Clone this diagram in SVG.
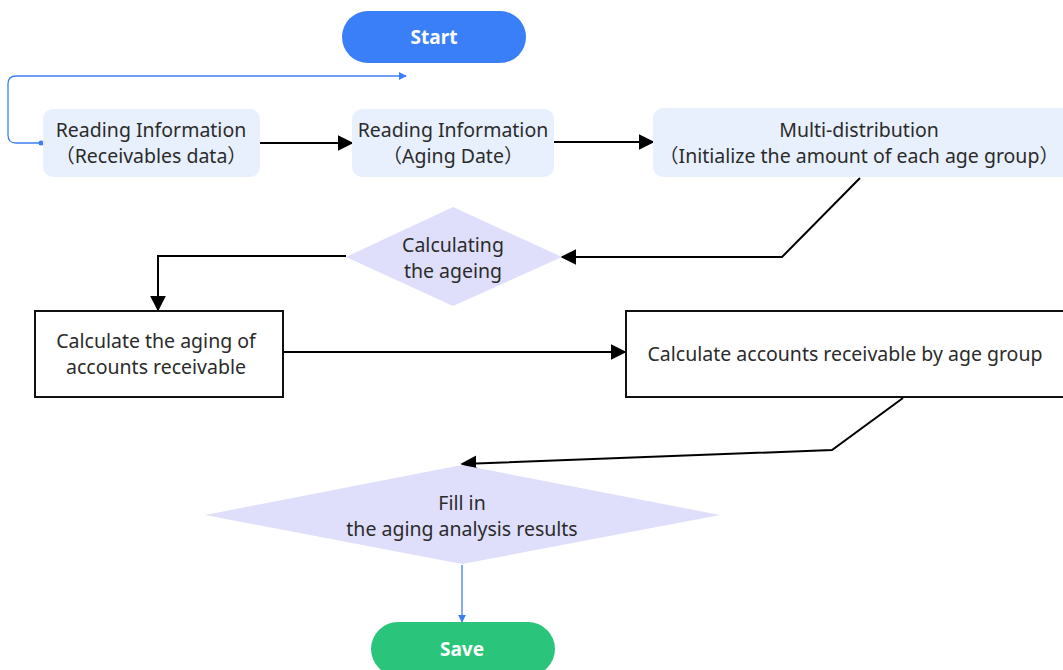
<svg xmlns="http://www.w3.org/2000/svg" width="1063" height="670" viewBox="0 0 1063 670">
  <defs>
    <style>
      .lbl { font-family: "Noto Sans", "Noto Sans CJK SC", sans-serif; font-size: 19.5px; fill: #2b2b2b; text-anchor: middle; }
      .term { font-family: "Noto Sans", sans-serif; font-size: 19px; font-weight: bold; fill: #ffffff; text-anchor: middle; }
      .soft { fill: #e8f0fd; }
      .dia { fill: #dfdffb; }
      .box { fill: #ffffff; stroke: #111111; stroke-width: 2; }
      .edge { fill: none; stroke: #000000; stroke-width: 2; }
      .blue { fill: none; stroke: #3b7ff8; stroke-width: 1.3; }
    </style>
    <marker id="ahBig" viewBox="0 0 10 10" refX="9" refY="5" markerWidth="16" markerHeight="16" markerUnits="userSpaceOnUse" orient="auto">
      <path d="M0,0 L10,5 L0,10 z" fill="#000000"/>
    </marker>
    <marker id="ahBlue" viewBox="0 0 10 10" refX="9" refY="5" markerWidth="8" markerHeight="8" markerUnits="userSpaceOnUse" orient="auto">
      <path d="M0,0 L10,5 L0,10 z" fill="#3b7ff8"/>
    </marker>
  </defs>

  <rect width="1063" height="670" fill="#ffffff"/>

  <g id="connectors">
    <!-- loop from the first reading step back up above -->
    <path class="blue" d="M41,143 H16 Q8,143 8,135 V84 Q8,76 16,76 H406" marker-end="url(#ahBlue)"/>
    <circle cx="41" cy="143" r="2.5" fill="#3b7ff8"/>
    <path class="edge" d="M260,143 H352" marker-end="url(#ahBig)"/>
    <path class="edge" d="M554,142 H653" marker-end="url(#ahBig)"/>
    <path class="edge" d="M860,178 L782,257 H562" marker-end="url(#ahBig)"/>
    <path class="edge" d="M346,256 H158 V310" marker-end="url(#ahBig)"/>
    <path class="edge" d="M283,352 H625" marker-end="url(#ahBig)"/>
    <path class="edge" d="M903,398 L832,450 L462,464" marker-end="url(#ahBig)"/>
    <path class="blue" d="M462,565 V622" marker-end="url(#ahBlue)"/>
  </g>

  <g id="start">
    <rect x="342" y="11" width="184" height="52" rx="26" fill="#3b7ff8"/>
    <text class="term" x="434" y="44">Start</text>
  </g>

  <g id="read-receivables">
    <rect class="soft" x="43" y="109" width="217" height="68" rx="10"/>
    <text class="lbl" x="151" y="137">Reading Information</text>
    <text class="lbl" x="151" y="163">（Receivables data）</text>
  </g>

  <g id="read-aging-date">
    <rect class="soft" x="352" y="109" width="202" height="68" rx="10"/>
    <text class="lbl" x="453" y="137">Reading Information</text>
    <text class="lbl" x="453" y="163">（Aging Date）</text>
  </g>

  <g id="multi-distribution">
    <rect class="soft" x="653" y="108" width="420" height="69" rx="10"/>
    <text class="lbl" x="859" y="137">Multi-distribution</text>
    <text class="lbl" x="859" y="163">（Initialize the amount of each age group）</text>
  </g>

  <g id="calculating-ageing">
    <polygon class="dia" points="453,207 562,257 453,306 346,257"/>
    <text class="lbl" x="453" y="252">Calculating</text>
    <text class="lbl" x="453" y="278">the ageing</text>
  </g>

  <g id="calc-aging">
    <rect class="box" x="35" y="311" width="248" height="86"/>
    <text class="lbl" x="156" y="348">Calculate the aging of</text>
    <text class="lbl" x="156" y="374">accounts receivable</text>
  </g>

  <g id="calc-by-group">
    <rect class="box" x="626" y="311" width="445" height="86"/>
    <text class="lbl" x="845" y="361">Calculate accounts receivable by age group</text>
  </g>

  <g id="fill-results">
    <polygon class="dia" points="462,465 720,515 462,564 205,515"/>
    <text class="lbl" x="462" y="510">Fill in</text>
    <text class="lbl" x="462" y="536">the aging analysis results</text>
  </g>

  <g id="save">
    <rect x="371" y="622" width="184" height="54" rx="27" fill="#2ac57a"/>
    <text class="term" x="462" y="656">Save</text>
  </g>
</svg>
